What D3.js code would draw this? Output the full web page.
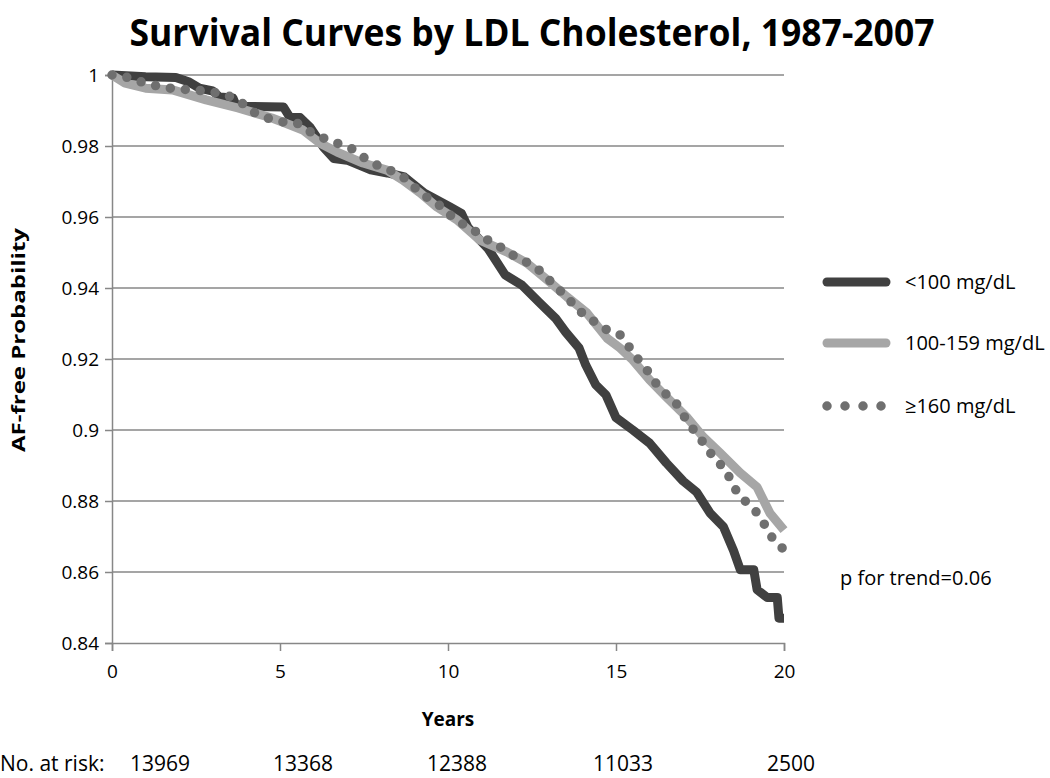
<!DOCTYPE html>
<html><head><meta charset="utf-8">
<script src="https://cdn.jsdelivr.net/npm/d3@7"></script>
<style>body{margin:0;background:#fff}svg{display:block}text{font-family:"Open Sans",sans-serif;fill:#000}</style>
</head><body><svg id="c" width="1050" height="778"></svg>
<script>
const title = "Survival Curves by LDL Cholesterol, 1987-2007";
const seriesNames = ["<100 mg/dL", "100-159 mg/dL", "\u2265160 mg/dL"];
const xTicks = [0, 5, 10, 15, 20];
const yTicks = [0.84, 0.86, 0.88, 0.9, 0.92, 0.94, 0.96, 0.98, 1];
const atRiskLabel = "No. at risk:";
const atRisk = [13969, 13368, 12388, 11033, 2500];

const lowYears = [0,1.0,1.9,2.3,2.6,3.0,3.2,3.6,3.7,5.1,5.3,5.6,5.9,6.3,6.6,7.0,7.7,8.2,8.7,9.3,10.06,10.4,10.6,11.2,11.7,12.2,12.7,13.2,13.5,13.9,14.1,14.4,14.7,15.0,15.5,16.0,16.5,17.0,17.4,17.8,18.2,18.5,18.7,19.1,19.2,19.5,19.8,19.85,20];
const lowVals  = [1.0,0.9995,0.9993,0.998,0.9963,0.9955,0.9938,0.9935,0.9912,0.991,0.988,0.988,0.9852,0.9796,0.9765,0.9760,0.9733,0.9724,0.9713,0.9667,0.9628,0.961,0.957,0.951,0.9437,0.9408,0.9361,0.9315,0.9276,0.9231,0.9183,0.9127,0.9099,0.9035,0.900,0.8963,0.8907,0.8856,0.8825,0.8766,0.8727,0.866,0.8606,0.8606,0.855,0.8528,0.8528,0.847,0.847];

const midYears = [0,0.39,1.0,1.8,2.8,3.75,4.76,5.15,5.68,6.19,6.7,7.47,8.18,8.66,9.17,9.67,10.27,10.95,11.76,12.35,12.95,13.54,14.13,14.73,15.12,15.5,16.0,16.5,17.1,17.6,18.1,18.7,19.2,19.58,20];
const midVals  = [1.0,0.9977,0.9963,0.9958,0.993,0.9907,0.9879,0.9865,0.9845,0.9808,0.9783,0.9752,0.9732,0.9704,0.9668,0.9628,0.9592,0.9535,0.9501,0.947,0.9423,0.9375,0.933,0.9259,0.9231,0.9197,0.9141,0.9093,0.9037,0.898,0.8935,0.8879,0.8839,0.8766,0.8718];

const highYears = [0,0.54,0.98,1.49,1.96,2.47,2.98,3.42,3.87,4.2,4.61,5.06,5.5,5.9,6.28,6.7,7.14,7.47,7.89,8.27,8.66,8.96,9.26,9.67,9.97,10.3,10.7,11.04,11.4,11.76,12.08,12.5,12.83,13.15,13.48,13.75,14.05,14.38,14.73,15.12,15.39,15.63,15.92,16.16,16.4,16.73,16.96,17.2,17.47,17.7,17.95,18.24,18.45,18.63,18.96,19.26,19.46,19.67,19.94,20];
const highVals  = [1.0,0.9992,0.9977,0.9966,0.996,0.9958,0.9952,0.9944,0.9921,0.9896,0.9879,0.9868,0.9865,0.984,0.9823,0.9808,0.9792,0.9769,0.9746,0.9732,0.9713,0.9687,0.9662,0.9639,0.9614,0.9586,0.9569,0.9541,0.9527,0.9501,0.9485,0.9465,0.9442,0.9408,0.938,0.9352,0.9324,0.9304,0.9282,0.9268,0.9234,0.9203,0.9169,0.9135,0.9107,0.9085,0.9048,0.9014,0.898,0.8952,0.8915,0.8893,0.8851,0.882,0.8789,0.8761,0.8727,0.8693,0.8668,0.8665];

const colors = ["#404040", "#a6a6a6", "#6f6f6f"];
const gridColor = "#878787";

const svg = d3.select("#c");
svg.append("rect").attr("width",1050).attr("height",778).attr("fill","#fff");

const x = d3.scaleLinear().domain([0,20]).range([112,784]);
const y = d3.scaleLinear().domain([0.84,1]).range([643,75]);

// title
svg.append("text").attr("x",532).attr("y",46).attr("text-anchor","middle")
  .attr("font-size",37).attr("font-weight","bold")
  .attr("textLength",805).attr("lengthAdjust","spacingAndGlyphs").text(title);

// gridlines
svg.append("g").selectAll("line").data(yTicks.filter(d=>d>0.84)).join("line")
  .attr("x1",x(0)).attr("x2",x(20)).attr("y1",d=>y(d)).attr("y2",d=>y(d))
  .attr("stroke",gridColor).attr("stroke-width",1.5);

// y axis
const yAxis = d3.axisLeft(y).tickValues(yTicks).tickFormat(d=>d3.format("")(+d.toFixed(2))).tickSize(7).tickPadding(6);
const gy = svg.append("g").attr("transform",`translate(${x(0)},0)`).call(yAxis);
gy.select(".domain").attr("stroke",gridColor).attr("stroke-width",1.5);
gy.selectAll(".tick line").attr("stroke",gridColor).attr("stroke-width",1.5);
gy.selectAll(".tick text").attr("font-size",19).attr("font-family","'Open Sans',sans-serif").attr("fill","#000");

// x axis
const xAxis = d3.axisBottom(x).tickValues(xTicks).tickSize(8).tickSizeOuter(8).tickPadding(14);
const gx = svg.append("g").attr("transform",`translate(0,${y(0.84)})`).call(xAxis);
gx.select(".domain").attr("stroke",gridColor).attr("stroke-width",1.5);
gx.selectAll(".tick line").attr("stroke",gridColor).attr("stroke-width",1.5);
gx.selectAll(".tick text").attr("font-size",19).attr("font-family","'Open Sans',sans-serif").attr("fill","#000");

// axis titles
svg.append("text").attr("transform","translate(25,340) rotate(-90)").attr("text-anchor","middle")
  .attr("font-size",17).attr("font-weight","bold").attr("textLength",224).attr("lengthAdjust","spacingAndGlyphs").text("AF-free Probability");
svg.append("text").attr("x",448).attr("y",726).attr("text-anchor","middle")
  .attr("font-size",19).attr("font-weight","bold").text("Years");

// lines
const line = d3.line().x(d=>x(d[0])).y(d=>y(d[1])).curve(d3.curveLinear);
const low = d3.zip(lowYears, lowVals), mid = d3.zip(midYears, midVals), high = d3.zip(highYears, highVals);
svg.append("path").datum(low).attr("d",line).attr("fill","none").attr("stroke",colors[0])
  .attr("stroke-width",9).attr("stroke-linejoin","round").attr("stroke-linecap","butt");
svg.append("path").datum(mid).attr("d",line).attr("fill","none").attr("stroke",colors[1])
  .attr("stroke-width",9).attr("stroke-linejoin","round").attr("stroke-linecap","butt");
svg.append("path").datum(high).attr("d",line).attr("fill","none").attr("stroke",colors[2])
  .attr("stroke-width",9.5).attr("stroke-linecap","round").attr("stroke-dasharray","0 15");

// legend
const legY = [282, 343, 406];
const lg = svg.append("g");
seriesNames.forEach((name,i)=>{
  const l = lg.append("line").attr("x1",827).attr("x2",886).attr("y1",legY[i]).attr("y2",legY[i])
    .attr("stroke",colors[i]).attr("stroke-width",9).attr("stroke-linecap","round");
  if(i===2) l.attr("x1",827).attr("x2",882).attr("stroke-dasharray","0 18").attr("stroke-width",9.5);
  lg.append("text").attr("x",905).attr("y",legY[i]).attr("dy","0.35em").attr("font-size",20).text(name);
});

svg.append("text").attr("x",840).attr("y",578).attr("dy","0.35em").attr("font-size",20).text("p for trend=0.06");

// at risk
svg.append("text").attr("x",0).attr("y",771).attr("font-size",21).text(atRiskLabel);
const riskX = [130, 273, 427, 593, 767];
svg.append("g").selectAll("text").data(atRisk).join("text")
  .attr("x",(d,i)=>riskX[i]).attr("y",771).attr("font-size",21).text(d=>d);
</script></body></html>
